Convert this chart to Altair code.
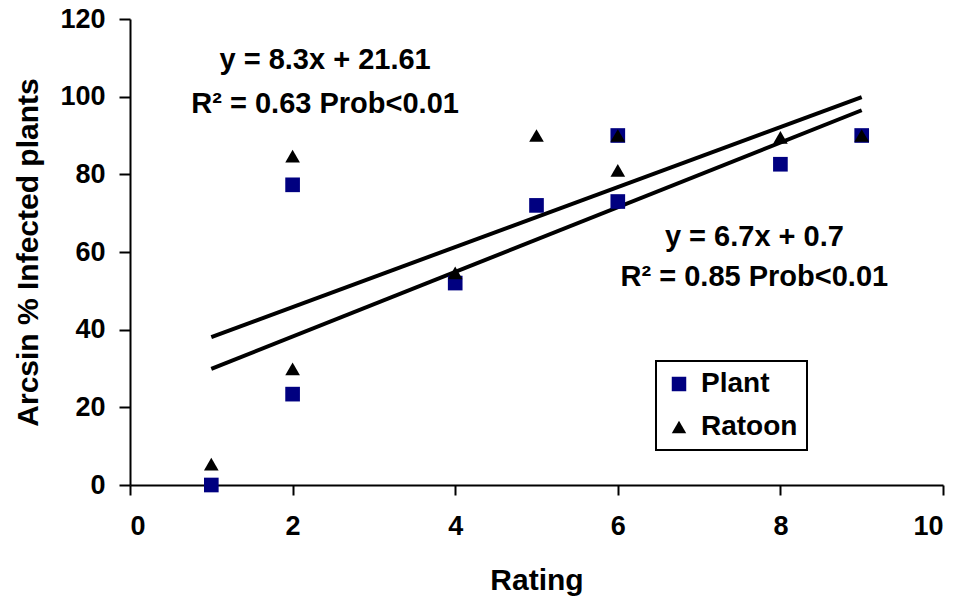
import altair as alt
import pandas as pd

# Data
plant_x = [1, 2, 2, 4, 5, 6, 6, 8, 9]
plant_y = [0, 77.3, 23.4, 52, 72, 90, 73, 82.6, 90]
ratoon_x = [1, 2, 2, 4, 5, 6, 6, 8, 9]
ratoon_y = [5.4, 84.7, 29.9, 54.6, 90, 90, 81, 89.5, 90]

# Trend lines (endpoints)
line_x = [1, 9]
line_upper = [38.1, 99.9]
line_lower = [29.9, 96.5]

x_ticks = [0, 2, 4, 6, 8, 10]
y_ticks = [0, 20, 40, 60, 80, 100, 120]

ann_text = ["y = 8.3x + 21.61", "R² = 0.63 Prob<0.01", "y = 6.7x + 0.7", "R² = 0.85 Prob<0.01"]
ann_x = [2.4, 2.4, 7.68, 7.68]
ann_y = [109.5, 98.0, 63.8, 53.5]

FONT = "Liberation Sans"

pts = pd.DataFrame({
    "Rating": plant_x + ratoon_x,
    "Value": plant_y + ratoon_y,
    "Series": ["Plant"] * len(plant_x) + ["Ratoon"] * len(ratoon_x),
})

lines = pd.DataFrame({
    "Rating": line_x + line_x,
    "Value": line_upper + line_lower,
    "Line": ["upper"] * 2 + ["lower"] * 2,
})

ann = pd.DataFrame({"t": ann_text, "x": ann_x, "y": ann_y})

xscale = alt.Scale(domain=[0, 10], nice=False, zero=False)
yscale = alt.Scale(domain=[0, 120], nice=False)

xaxis = alt.Axis(values=x_ticks, title="Rating", grid=False, tickSize=10,
                 labelPadding=18, titlePadding=26, format="d")
yaxis = alt.Axis(values=y_ticks, title="Arcsin % Infected plants", grid=False,
                 tickSize=11, labelPadding=14, titlePadding=16, format="d")

line_layer = alt.Chart(lines).mark_line(color="black", strokeWidth=4).encode(
    x=alt.X("Rating:Q", scale=xscale, axis=xaxis),
    y=alt.Y("Value:Q", scale=yscale, axis=yaxis),
    detail="Line:N",
)

point_layer = alt.Chart(pts).mark_point(filled=True, opacity=1, size=215).encode(
    x=alt.X("Rating:Q", scale=xscale),
    y=alt.Y("Value:Q", scale=yscale),
    color=alt.Color("Series:N",
                    scale=alt.Scale(domain=["Plant", "Ratoon"], range=["#000080", "#000000"]),
                    legend=alt.Legend(title=None, orient="none", legendX=526, legendY=342,
                                      labelFontSize=28, labelFont=FONT, labelFontWeight="bold",
                                      symbolSize=210, strokeColor="black", fillColor="white",
                                      padding=9, rowPadding=15, labelOffset=8,
                                      symbolStrokeWidth=0)),
    shape=alt.Shape("Series:N",
                    scale=alt.Scale(domain=["Plant", "Ratoon"], range=["square", "triangle-up"]),
                    legend=None),
)

text_layer = alt.Chart(ann).mark_text(fontSize=29, font=FONT, fontWeight="bold",
                                      color="black", align="center", baseline="middle").encode(
    x=alt.X("x:Q", scale=xscale),
    y=alt.Y("y:Q", scale=yscale),
    text="t:N",
)

chart = alt.layer(line_layer, point_layer, text_layer).properties(
    width=813, height=466,
    padding={"left": 130, "top": 19, "right": 23, "bottom": 116},
    autosize=alt.AutoSizeParams(type="none"),
    background="white",
).configure_view(stroke=None).configure_axis(
    domainColor="black", domainWidth=2, tickColor="black", tickWidth=2,
    labelFont=FONT, labelFontSize=27, labelFontWeight="bold", labelColor="black",
    titleFont=FONT, titleFontSize=30, titleFontWeight="bold", titleColor="black",
).configure_legend(strokeWidth=2)

chart.save("out.html", embed_options={"renderer": "svg", "actions": False})
